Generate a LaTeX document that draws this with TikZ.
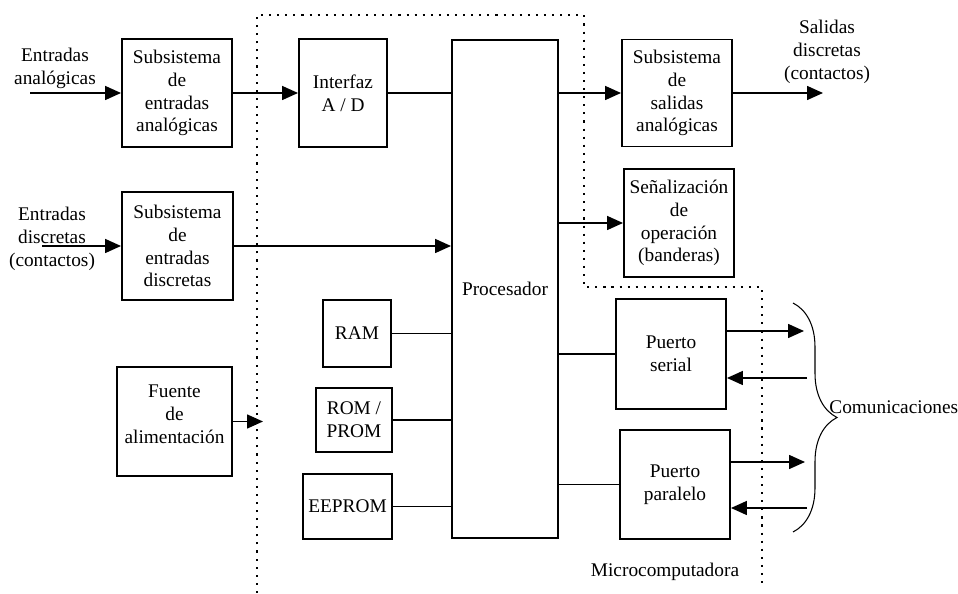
\documentclass[tikz,border=0pt]{standalone}
\usepackage{fontspec}
\setmainfont{Liberation Serif}
\usetikzlibrary{arrows.meta,calc,decorations.pathreplacing}

\begin{document}
\begin{tikzpicture}[x=.2mm,y=.2mm,
  every node/.style={font=\fontsize{11}{13}\selectfont,inner sep=1pt,align=center},
  block/.style={draw,line width=1.1pt,minimum width=22mm,minimum height=21.6mm},
  mem/.style={draw,line width=1.1pt,minimum height=13mm},
  flow/.style={-{Triangle[length=3.2mm,width=2.8mm]},line width=.9pt},
  wire/.style={line width=.9pt},
  border/.style={line width=1.1pt,dash pattern=on 1.2pt off 3.4pt}]

\useasboundingbox (0,0) rectangle (958,594);

% -------------------------------------------------------------------------
% Microcomputer boundary (dotted).
% -------------------------------------------------------------------------
\draw[border] (257,1) -- (257,579) -- (584,579) -- (584,307)
  -- (762,307) -- (762,6);
\node (micro) at (665,22) {Microcomputadora};

% -------------------------------------------------------------------------
% Inputs and power supply.
% -------------------------------------------------------------------------
\node (inalab) at (55,526) {Entradas\\analógicas};
\node (indlab) at (52,355) {Entradas\\discretas\\(contactos)};
\coordinate (ina) at (30,501);
\coordinate (ind) at (42,348);
\node[block] (sea) at (177,501) {Subsistema\\de\\entradas\\analógicas};
\node[block,minimum width=22.2mm] (sed) at (177.5,348)
  {Subsistema\\de\\entradas\\discretas};
\node[block,minimum width=23mm,minimum height=21.8mm] (fue) at (174.5,172.5)
  {Fuente\\de\\alimentación\\[-5pt]};
\coordinate (pwr) at (263,172.5);

% -------------------------------------------------------------------------
% Processor, converter and memories.
% -------------------------------------------------------------------------
\node[block,minimum width=21.2mm,minimum height=99.6mm] (proc) at (505,305)
  {Procesador};
\node[block,minimum width=17.6mm] (ad) at (343,501) {Interfaz\\A / D};
\node[mem,minimum width=13.6mm,minimum height=13.4mm] (ram) at (357,260.5) {RAM};
\node[mem,minimum width=15.2mm,minimum height=12.8mm] (rom) at (354,174)
  {ROM /\\PROM};
\node[mem,minimum width=17.8mm] (eep) at (347.5,87.5) {EEPROM};

% -------------------------------------------------------------------------
% Outputs and ports.
% -------------------------------------------------------------------------
\node[block,minimum height=21.4mm] (ssa) at (677,501)
  {Subsistema\\de\\salidas\\analógicas};
\node (outlab) at (827,542) {Salidas\\discretas\\(contactos)};
\coordinate (outs) at (823,501);
\node[block] (sen) at (679,371) {Señalización\\de\\operación\\(banderas)};
\node[block,minimum height=22mm] (ser) at (671,240) {Puerto\\serial};
\node[block,minimum height=21.8mm] (par) at (675,109.5) {Puerto\\paralelo};
\coordinate (so1) at (804,263);
\coordinate (si1) at (807,216);
\coordinate (po1) at (805,132);
\coordinate (pi1) at (807,86);
\coordinate (brtop) at (793,291);
\coordinate (brbot) at (793,62);
\node[anchor=west,inner sep=0pt] (com) at (829,187) {Comunicaciones};

% -------------------------------------------------------------------------
% Connections.
% -------------------------------------------------------------------------
\draw[flow] (ina) -- (sea);
\draw[flow] (sea) -- (ad);
\draw[wire] (ad) -- (ad -| proc.west);
\draw[flow] (ind) -- (ind -| sed.west);
\draw[flow] (sed) -- (sed -| proc.west);
\draw[flow] (fue.east) -- (pwr);
\draw[wire] (ram) -- (ram -| proc.west);
\draw[wire] (rom) -- (rom -| proc.west);
\draw[wire] (eep) -- (eep -| proc.west);
\draw[flow] (ssa -| proc.east) -- (ssa);
\draw[flow] (ssa) -- (outs);
\draw[flow] (sen -| proc.east) -- (sen);
\draw[wire] (ser -| proc.east) -- (ser);
\draw[wire] (par -| proc.east) -- (par);
\draw[flow] (so1 -| ser.east) -- (so1);
\draw[flow] (si1) -- (si1 -| ser.east);
\draw[flow] (po1 -| par.east) -- (po1);
\draw[flow] (pi1) -- (pi1 -| par.east);
\draw[line width=.6pt,decorate,decoration={brace,amplitude=8.8mm}]
  (brtop) -- (brbot);
\end{tikzpicture}
\end{document}
